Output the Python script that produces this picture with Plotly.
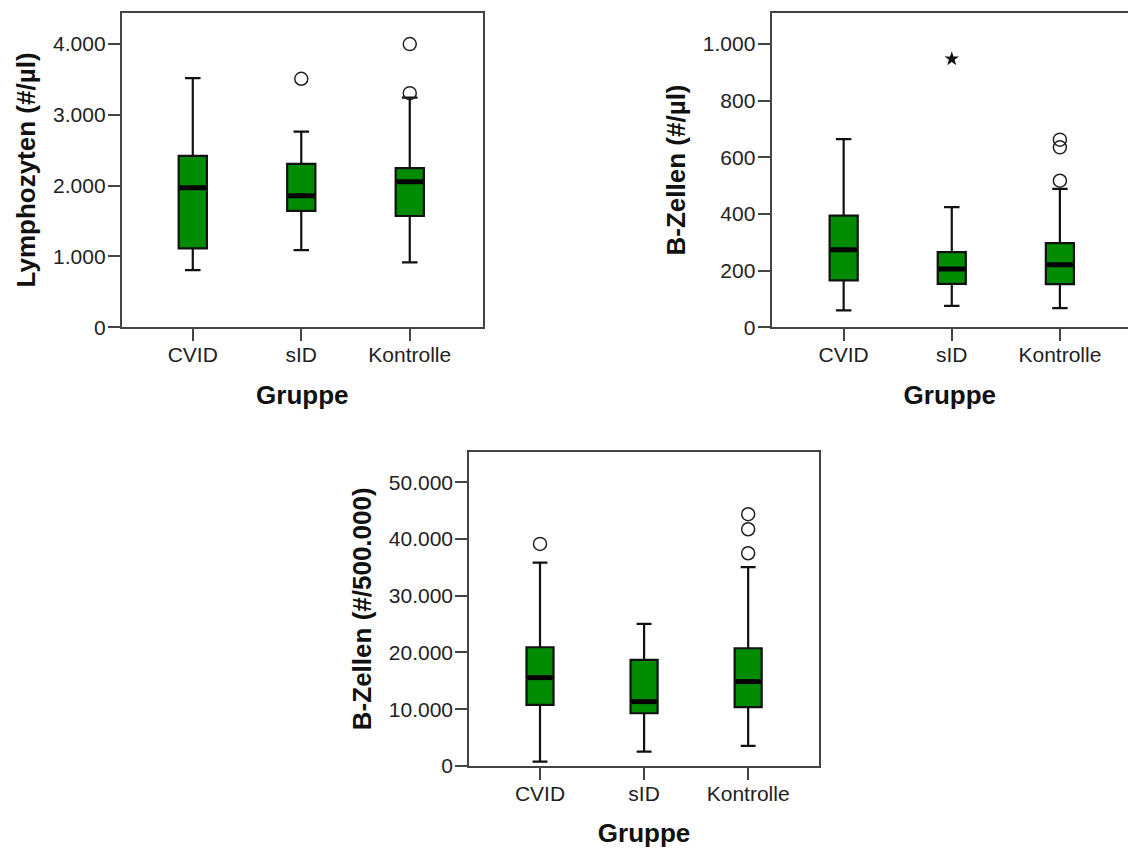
import plotly.graph_objects as go

# ---------------- data ----------------
categories = ["CVID", "sID", "Kontrolle"]

# Panel 1: Lymphozyten (#/µl)
lym_q1 = [1113, 1641, 1570]
lym_median = [1970, 1857, 2055]
lym_q3 = [2418, 2305, 2245]
lym_low = [806, 1089, 915]
lym_high = [3517, 2763, 3243]
lym_out_x = [1, 2, 2]
lym_out_y = [3508, 3998, 3305]

# Panel 2: B-Zellen (#/µl)
bz_q1 = [165, 153, 152]
bz_median = [273, 205, 220]
bz_q3 = [394, 265, 297]
bz_low = [59, 75, 67]
bz_high = [664, 424, 488]
bz_out_x = [2, 2, 2]
bz_out_y = [662, 635, 517]
bz_extreme_x = [1]
bz_extreme_y = [947]

# Panel 3: B-Zellen (#/500.000)
bz5_q1 = [10750, 9290, 10350]
bz5_median = [15560, 11330, 14860]
bz5_q3 = [20920, 18680, 20740]
bz5_low = [760, 2520, 3520]
bz5_high = [35830, 25030, 35020]
bz5_out_x = [0, 2, 2, 2]
bz5_out_y = [39130, 44360, 41710, 37480]

y_titles = ["Lymphozyten (#/µl)", "B-Zellen (#/µl)", "B-Zellen (#/500.000)"]
x_title = "Gruppe"
y_ticks = [[0, 1000, 2000, 3000, 4000],
           [0, 200, 400, 600, 800, 1000],
           [0, 10000, 20000, 30000, 40000, 50000]]

# ---------------- style ----------------
FILL = "#008c00"
DARK = "#111111"
FRAME = "#444444"
FONT = "Liberation Sans, Arial, sans-serif"
BOX_W = 0.26
HALF = BOX_W / 2

fig = go.Figure()

panels = [
    dict(q1=lym_q1, med=lym_median, q3=lym_q3, lo=lym_low, hi=lym_high,
         ox=lym_out_x, oy=lym_out_y, ex=[], ey=[]),
    dict(q1=bz_q1, med=bz_median, q3=bz_q3, lo=bz_low, hi=bz_high,
         ox=bz_out_x, oy=bz_out_y, ex=bz_extreme_x, ey=bz_extreme_y),
    dict(q1=bz5_q1, med=bz5_median, q3=bz5_q3, lo=bz5_low, hi=bz5_high,
         ox=bz5_out_x, oy=bz5_out_y, ex=[], ey=[]),
]

xpos = list(range(len(categories)))

for k, p in enumerate(panels):
    xa = "x" if k == 0 else f"x{k+1}"
    ya = "y" if k == 0 else f"y{k+1}"
    fig.add_trace(go.Box(
        x=xpos, q1=p["q1"], median=p["med"], q3=p["q3"],
        lowerfence=p["lo"], upperfence=p["hi"],
        width=BOX_W, whiskerwidth=0.55, boxpoints=False,
        fillcolor=FILL, line=dict(color=DARK, width=2.2),
        xaxis=xa, yaxis=ya, showlegend=False, hoverinfo="skip"))
    # thick median bars
    mx, my = [], []
    for i, m in zip(xpos, p["med"]):
        mx += [i - HALF + 0.01, i + HALF - 0.01, None]
        my += [m, m, None]
    fig.add_trace(go.Scatter(x=mx, y=my, mode="lines",
                             line=dict(color="#000000", width=5),
                             xaxis=xa, yaxis=ya, showlegend=False, hoverinfo="skip"))
    fig.add_trace(go.Scatter(x=p["ox"], y=p["oy"], mode="markers",
                             marker=dict(symbol="circle-open", size=13,
                                         color="#222222", line=dict(width=1.5)),
                             xaxis=xa, yaxis=ya, showlegend=False))
    if p["ex"]:
        fig.add_trace(go.Scatter(x=p["ex"], y=p["ey"], mode="markers",
                                 marker=dict(symbol="star", size=11, color="#111111"),
                                 xaxis=xa, yaxis=ya, showlegend=False))

x_domains = [[0.108, 0.428], [0.684, 1.0], [0.416, 0.726]]
y_domains = [[0.616, 0.985], [0.616, 0.985], [0.101, 0.470]]
x_ranges = [[-0.654, 2.673], [-0.667, 2.63], [-0.68, 2.68]]
y_ranges = [[0, 4440], [0, 1110], [0, 55400]]
right_frame = [True, False, True]

layout = dict(
    width=1128, height=852,
    margin=dict(l=0, r=0, t=0, b=0),
    paper_bgcolor="white", plot_bgcolor="white",
    separators=",.",
    font=dict(family=FONT, color="#222222"),
)

for k in range(3):
    xs = "xaxis" if k == 0 else f"xaxis{k+1}"
    ys = "yaxis" if k == 0 else f"yaxis{k+1}"
    xa = "x" if k == 0 else f"x{k+1}"
    ya = "y" if k == 0 else f"y{k+1}"
    layout[xs] = dict(
        domain=x_domains[k], anchor=ya, range=x_ranges[k], automargin=False,
        tickmode="array", tickvals=xpos, ticktext=categories,
        ticks="outside", ticklen=12, tickwidth=2, tickcolor=FRAME,
        ticklabelstandoff=-4,
        showline=True, linecolor=FRAME, linewidth=2, mirror=True,
        showgrid=False, zeroline=False,
        tickfont=dict(size=21, color="#222222", family=FONT),
        title=dict(text=x_title, standoff=20,
                   font=dict(size=26, color="#111111", family=FONT, weight="bold")),
    )
    layout[ys] = dict(
        domain=y_domains[k], anchor=xa, range=y_ranges[k], automargin=False,
        tickmode="array", tickvals=y_ticks[k], tickformat=",d",
        ticks="outside", ticklen=12, tickwidth=2, tickcolor=FRAME,
        ticklabelstandoff=-2,
        showline=True, linecolor=FRAME, linewidth=2, mirror=right_frame[k],
        showgrid=False, zeroline=False,
        tickfont=dict(size=21, color="#222222", family=FONT),
        title=dict(text=y_titles[k], standoff=10,
                   font=dict(size=26, color="#111111", family=FONT, weight="bold")),
    )

fig.update_layout(**layout)
fig.write_html("out.html")
